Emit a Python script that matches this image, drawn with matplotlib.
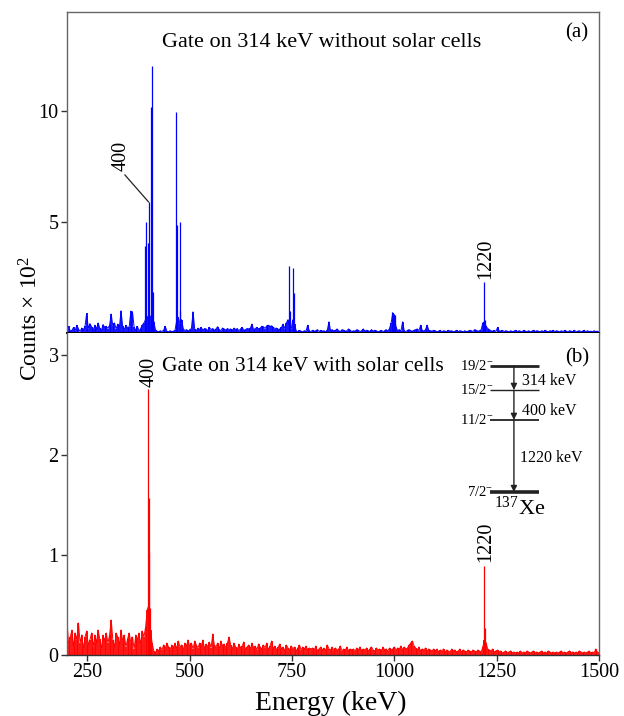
import numpy as np
import matplotlib
matplotlib.use("Agg")
import matplotlib.pyplot as plt

plt.rcParams['font.family'] = ['Liberation Serif', 'DejaVu Serif']
plt.rcParams['mathtext.fontset'] = 'custom'
plt.rcParams['mathtext.rm'] = 'Liberation Serif'
plt.rcParams['mathtext.it'] = 'Liberation Serif:italic'

# ---------------- data (counts x 10^2) ----------------
energy_step = 4
energy_start = 200
energy_stop = 1500

bg_top = [
    0.15, 0.30, 0.08, 0.12, 0.25, 0.10, 0.35, 0.18, 0.06, 0.22, 0.14, 0.30, 0.88, 0.20, 0.42, 0.28, 0.12, 0.35, 0.18, 0.45, 0.22, 0.10, 0.38, 0.25, 0.30,
    0.20, 0.35, 0.85, 0.30, 0.45, 0.18, 0.40, 0.25, 1.00, 0.30, 0.15, 0.35, 0.22, 0.28, 0.98, 0.95, 0.25, 0.12, 0.30, 0.08, 0.20, 0.35, 0.45, 0.60, 0.70,
    0.80, 0.70, 0.90, 0.50, 0.15, 0.08, 0.05, 0.10, 0.06, 0.12, 0.30, 0.08, 0.05, 0.10, 0.06, 0.08, 0.12, 0.55, 0.70, 0.40, 0.60, 0.20, 0.10, 0.15, 0.08,
    0.15, 0.20, 0.95, 0.18, 0.10, 0.22, 0.15, 0.25, 0.12, 0.20, 0.18, 0.10, 0.25, 0.15, 0.20, 0.12, 0.18, 0.28, 0.15, 0.10, 0.22, 0.18, 0.12, 0.20, 0.15,
    0.18, 0.12, 0.22, 0.15, 0.20, 0.10, 0.18, 0.25, 0.12, 0.15, 0.20, 0.18, 0.22, 0.40, 0.15, 0.20, 0.25, 0.18, 0.22, 0.30, 0.28, 0.20, 0.32, 0.35, 0.30,
    0.32, 0.25, 0.20, 0.22, 0.15, 0.18, 0.25, 0.40, 0.20, 0.45, 0.60, 0.30, 0.20, 0.60, 0.40, 0.10, 0.06, 0.12, 0.08, 0.05, 0.10, 0.08, 0.35, 0.10, 0.06,
    0.12, 0.08, 0.10, 0.15, 0.06, 0.12, 0.08, 0.10, 0.05, 0.12, 0.50, 0.10, 0.15, 0.08, 0.12, 0.18, 0.10, 0.06, 0.15, 0.12, 0.08, 0.10, 0.18, 0.12, 0.06,
    0.10, 0.08, 0.15, 0.12, 0.06, 0.10, 0.18, 0.08, 0.12, 0.10, 0.06, 0.15, 0.08, 0.12, 0.10, 0.05, 0.08, 0.12, 0.06, 0.10, 0.15, 0.08, 0.20, 0.45, 0.90,
    0.80, 0.25, 0.10, 0.15, 0.08, 0.50, 0.10, 0.06, 0.12, 0.15, 0.10, 0.08, 0.12, 0.15, 0.18, 0.10, 0.35, 0.12, 0.08, 0.15, 0.35, 0.12, 0.10, 0.08, 0.12,
    0.10, 0.06, 0.08, 0.12, 0.05, 0.10, 0.08, 0.06, 0.12, 0.08, 0.10, 0.05, 0.08, 0.12, 0.06, 0.10, 0.08, 0.05, 0.10, 0.06, 0.08, 0.12, 0.10, 0.06, 0.15,
    0.12, 0.08, 0.10, 0.15, 0.45, 0.50, 0.30, 0.20, 0.15, 0.10, 0.08, 0.12, 0.06, 0.25, 0.10, 0.08, 0.12, 0.06, 0.10, 0.08, 0.05, 0.10, 0.06, 0.08, 0.12,
    0.06, 0.10, 0.08, 0.05, 0.12, 0.08, 0.06, 0.10, 0.05, 0.08, 0.12, 0.06, 0.10, 0.08, 0.05, 0.10, 0.06, 0.12, 0.08, 0.05, 0.10, 0.08, 0.12, 0.06, 0.10,
    0.08, 0.05, 0.10, 0.06, 0.12, 0.08, 0.05, 0.10, 0.08, 0.06, 0.12, 0.05, 0.08, 0.10, 0.06, 0.08, 0.12, 0.05, 0.10, 0.06, 0.08, 0.05, 0.10, 0.06, 0.08, 0.05,
]

peak_E_top = [390.5, 393, 397, 399.5, 405, 407.5, 410, 467, 469.5, 475, 477, 742, 744, 753, 754, 995, 998, 1001, 1220, 1222]
peak_H_top = [3.9, 5.0, 4.05, 5.9, 10.2, 12.05, 1.85, 9.97, 4.86, 1.0, 5.0, 3.0, 1.0, 2.93, 1.8, 0.95, 0.85, 0.8, 2.3, 0.6]

bg_bot = [
    0.34, 0.10, 0.18, 0.25, 0.08, 0.22, 0.15, 0.32, 0.12, 0.20, 0.06, 0.18, 0.24, 0.10, 0.15, 0.22, 0.08, 0.20, 0.12, 0.25, 0.16, 0.06, 0.20, 0.14, 0.22,
    0.12, 0.20, 0.35, 0.15, 0.08, 0.22, 0.18, 0.10, 0.25, 0.14, 0.20, 0.08, 0.16, 0.22, 0.12, 0.18, 0.06, 0.20, 0.15, 0.22, 0.10, 0.24, 0.18, 0.28, 0.45,
    0.50, 0.25, 0.12, 0.04, 0.02, 0.06, 0.04, 0.08, 0.05, 0.10, 0.06, 0.12, 0.08, 0.05, 0.10, 0.07, 0.12, 0.06, 0.14, 0.08, 0.10, 0.05, 0.12, 0.09, 0.15,
    0.08, 0.12, 0.06, 0.14, 0.10, 0.07, 0.12, 0.09, 0.15, 0.06, 0.11, 0.08, 0.13, 0.07, 0.21, 0.10, 0.08, 0.12, 0.06, 0.14, 0.09, 0.11, 0.07, 0.12, 0.18,
    0.10, 0.06, 0.12, 0.08, 0.05, 0.11, 0.07, 0.09, 0.13, 0.05, 0.08, 0.10, 0.06, 0.12, 0.07, 0.09, 0.05, 0.11, 0.08, 0.06, 0.10, 0.07, 0.12, 0.05, 0.09,
    0.14, 0.06, 0.09, 0.05, 0.08, 0.11, 0.06, 0.08, 0.04, 0.10, 0.07, 0.05, 0.09, 0.06, 0.08, 0.04, 0.07, 0.10, 0.05, 0.08, 0.06, 0.09, 0.05, 0.07, 0.06,
    0.07, 0.05, 0.09, 0.04, 0.06, 0.08, 0.05, 0.07, 0.04, 0.10, 0.06, 0.05, 0.08, 0.04, 0.07, 0.05, 0.06, 0.09, 0.04, 0.06, 0.05, 0.08, 0.04, 0.06, 0.05,
    0.06, 0.04, 0.07, 0.05, 0.08, 0.04, 0.06, 0.05, 0.07, 0.04, 0.06, 0.08, 0.05, 0.04, 0.07, 0.05, 0.06, 0.04, 0.08, 0.05, 0.06, 0.04, 0.07, 0.05, 0.06,
    0.08, 0.05, 0.07, 0.06, 0.09, 0.05, 0.08, 0.06, 0.07, 0.10, 0.12, 0.14, 0.09, 0.07, 0.05, 0.08, 0.04, 0.06, 0.05, 0.07, 0.04, 0.06, 0.05, 0.04, 0.06,
    0.04, 0.06, 0.03, 0.05, 0.04, 0.06, 0.03, 0.05, 0.04, 0.03, 0.06, 0.04, 0.05, 0.03, 0.04, 0.06, 0.03, 0.05, 0.04, 0.03, 0.05, 0.04, 0.03, 0.05, 0.04,
    0.03, 0.05, 0.04, 0.03, 0.08, 0.15, 0.12, 0.06, 0.05, 0.04, 0.06, 0.03, 0.04, 0.05, 0.03, 0.04, 0.02, 0.03, 0.04, 0.02, 0.03, 0.04, 0.02, 0.03, 0.02,
    0.03, 0.02, 0.04, 0.02, 0.03, 0.02, 0.04, 0.03, 0.02, 0.03, 0.04, 0.02, 0.03, 0.02, 0.03, 0.04, 0.02, 0.03, 0.02, 0.04, 0.03, 0.02, 0.03, 0.02, 0.03,
    0.02, 0.03, 0.04, 0.02, 0.03, 0.02, 0.03, 0.04, 0.02, 0.03, 0.02, 0.03, 0.02, 0.04, 0.03, 0.02, 0.03, 0.02, 0.03, 0.04, 0.02, 0.03, 0.02, 0.06, 0.03, 0.02,
]

peak_E_bot = [399, 400, 401, 402, 1220, 1221]
peak_H_bot = [2.66, 1.57, 1.02, 0.47, 0.89, 0.27]

x_ticks = [250, 500, 750, 1000, 1250, 1500]
y_ticks_top = [5, 10]
y_ticks_bot = [0, 1, 2, 3]

level_spins = ["19/2", "15/2", "11/2", "7/2"]
gamma_labels = ["314 keV", "400 keV", "1220 keV"]

# ---------------- figure ----------------
energies = np.arange(energy_start, energy_stop + 1, energy_step)

fig = plt.figure(figsize=(6.24, 7.16), dpi=100)
ax_top = fig.add_axes([0.1074, 0.535, 0.8526, 0.448])
ax_bot = fig.add_axes([0.1074, 0.0852, 0.8526, 0.4498])

spine_col = '#666666'
for ax in (ax_top, ax_bot):
    for s in ax.spines.values():
        s.set_color(spine_col)
        s.set_linewidth(1.0)
    ax.set_xlim(200, 1500)
    ax.set_xticks(x_ticks)
    ax.tick_params(direction='out', length=4, width=1.0, color='#333333',
                   labelsize=14.5, pad=2)

ax_top.spines['bottom'].set_color('black')
ax_top.spines['bottom'].set_linewidth(1.4)
ax_bot.spines['top'].set_visible(False)
ax_bot.spines['bottom'].set_color('#333333')

# top spectrum
blue = '#0000ff'
ax_top.vlines(energies, 0, bg_top, color=blue, lw=1.3)
ax_top.plot(energies, bg_top, color=blue, lw=0.7)
ax_top.vlines(peak_E_top, 0, peak_H_top, color=blue, lw=0.9)
ax_top.set_ylim(0, 14.46)
ax_top.set_yticks(y_ticks_top)
ax_top.tick_params(axis='x', labelbottom=False, length=0)

# bottom spectrum
red = '#ff0000'
ax_bot.vlines(energies, 0, bg_bot, color=red, lw=1.3)
ax_bot.plot(energies, bg_bot, color=red, lw=0.7)
ax_bot.vlines(peak_E_bot, 0, peak_H_bot, color=red, lw=0.9)
ax_bot.set_ylim(0, 3.22)
ax_bot.set_yticks(y_ticks_bot)

# texts panel a
ax_top.text(0.179, 0.905, "Gate on 314 keV without solar cells", transform=ax_top.transAxes,
            ha='left', va='center', fontsize=16)
ax_top.text(0.958, 0.935, "(a)", transform=ax_top.transAxes, ha='center', va='center', fontsize=15)
ax_top.annotate("400", xy=(peak_E_top[3], peak_H_top[3]), xytext=(333, 7.3),
                rotation=90, ha='center', va='bottom', fontsize=14.5,
                arrowprops=dict(arrowstyle='-', color='#222222', lw=0.9,
                                shrinkA=1, shrinkB=0, relpos=(0.5, 0)))
ax_top.text(1223, peak_H_top[18] + 0.15, "1220", rotation=90, ha='center', va='bottom', fontsize=14.5)

# texts panel b
ax_bot.text(0.179, 0.897, "Gate on 314 keV with solar cells", transform=ax_bot.transAxes,
            ha='left', va='center', fontsize=15.5)
ax_bot.text(0.958, 0.922, "(b)", transform=ax_bot.transAxes, ha='center', va='center', fontsize=15)
ax_bot.text(401, peak_H_bot[0] + 0.02, "400", rotation=90, ha='center', va='bottom', fontsize=14.5)
ax_bot.text(1223, peak_H_bot[4] + 0.04, "1220", rotation=90, ha='center', va='bottom', fontsize=14.5)

# level scheme (drawn in axes fraction of bottom panel)
lev_y = [0.897, 0.823, 0.730, 0.506]
lev_lw = [2.0, 1.0, 1.3, 2.6]
x0, x1, xa = 0.795, 0.887, 0.840
tr = ax_bot.transAxes
for spin, y, lw in zip(level_spins, lev_y, lev_lw):
    ax_bot.plot([x0, x1], [y, y], color='#222222', lw=lw, transform=tr, solid_capstyle='butt')
    ax_bot.text(x0 + 0.006, y, spin + r"$^{-}$", transform=tr, ha='right', va='center', fontsize=10.5)
for i, lab in enumerate(gamma_labels):
    ax_bot.annotate("", xy=(xa, lev_y[i + 1]), xytext=(xa, lev_y[i]), xycoords=tr, textcoords=tr,
                    arrowprops=dict(arrowstyle='-|>', color='#222222', lw=1.0, mutation_scale=9,
                                    shrinkA=0, shrinkB=0))
gam_pos = [(0.855, 0.851), (0.855, 0.758), (0.851, 0.612)]
for lab, (gx, gy) in zip(gamma_labels, gam_pos):
    ax_bot.text(gx, gy, lab, transform=tr, ha='left', va='center', fontsize=11.5)
ax_bot.text(0.803, 0.455, r"$^{137}$Xe", transform=tr, ha='left', va='center', fontsize=16)

fig.text(0.05, 0.555, r"Counts $\times$ 10$^{2}$", rotation=90, ha='center', va='center', fontsize=17)
fig.text(0.53, 0.018, "Energy (keV)", ha='center', va='center', fontsize=20)

fig.savefig("out.png", dpi=100)
